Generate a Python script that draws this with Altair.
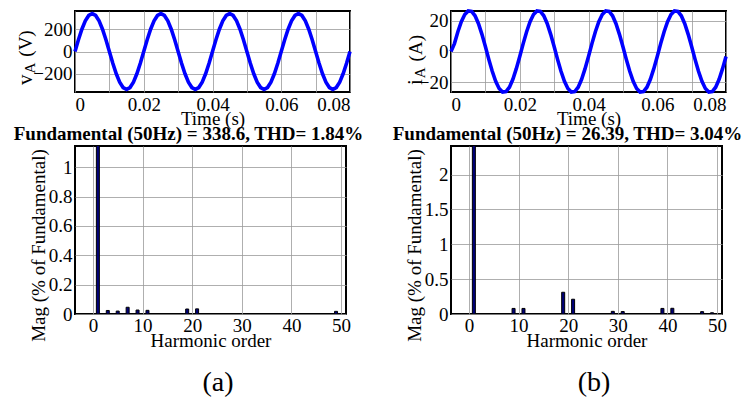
import altair as alt
import pandas as pd

SERIF = "Liberation Serif, Times New Roman, Tinos, DejaVu Serif, serif"

# 1 ms sample index over the 80 ms capture
sample_ms = list(range(81))

# phase-A voltage (V), one sample per ms
phase_voltage = [
    0, 105, 199, 274, 322, 339, 322, 274, 199, 105, 0, -105, -199, -274, -322, -339, -322, -274, -199, -105,
    0, 105, 199, 274, 322, 339, 322, 274, 199, 105, 0, -105, -199, -274, -322, -339, -322, -274, -199, -105,
    0, 105, 199, 274, 322, 339, 322, 274, 199, 105, 0, -105, -199, -274, -322, -339, -322, -274, -199, -105,
    0, 105, 199, 274, 322, 339, 322, 274, 199, 105, 0, -105, -199, -274, -322, -339, -322, -274, -199, -105,
    0,
]

# phase-A current (A), one sample per ms
phase_current = [
    0, 5.1, 12.8, 19.3, 23.9, 26.2, 25.9, 23.1, 18.0, 11.1, 3.2, -5.1, -12.8, -19.3, -23.9, -26.2, -25.9, -23.1, -18.0, -11.1,
    -3.2, 5.1, 12.8, 19.3, 23.9, 26.2, 25.9, 23.1, 18.0, 11.1, 3.2, -5.1, -12.8, -19.3, -23.9, -26.2, -25.9, -23.1, -18.0, -11.1,
    -3.2, 5.1, 12.8, 19.3, 23.9, 26.2, 25.9, 23.1, 18.0, 11.1, 3.2, -5.1, -12.8, -19.3, -23.9, -26.2, -25.9, -23.1, -18.0, -11.1,
    -3.2, 5.1, 12.8, 19.3, 23.9, 26.2, 25.9, 23.1, 18.0, 11.1, 3.2, -5.1, -12.8, -19.3, -23.9, -26.2, -25.9, -23.1, -18.0, -11.1,
    -3.2,
]

# FFT spectra (% of fundamental)
voltage_orders = [1, 3, 5, 7, 9, 11, 19, 21, 49]
voltage_mags = [100, 0.024, 0.020, 0.046, 0.027, 0.025, 0.034, 0.035, 0.018]
current_orders = [1, 9, 11, 19, 21, 29, 31, 39, 41, 47, 49]
current_mags = [100, 0.080, 0.080, 0.312, 0.212, 0.038, 0.035, 0.080, 0.082, 0.034, 0.018]

voltage_fft_title = "Fundamental (50Hz) = 338.6, THD= 1.84%"
current_fft_title = "Fundamental (50Hz) = 26.39, THD= 3.04%"

voltage_axis_text = ["v", "A", "(V)"]
current_axis_text = ["i", "A", "(A)"]
captions = ["(a)", "(b)"]

time_ticks = [0, 0.01, 0.02, 0.03, 0.04, 0.05, 0.06, 0.07, 0.08]
voltage_ticks = [-200, 0, 200]
current_ticks = [-20, 0, 20]
order_ticks = [0, 10, 20, 30, 40, 50]
voltage_mag_ticks = [0, 0.2, 0.4, 0.6, 0.8, 1]
current_mag_ticks = [0, 0.5, 1, 1.5, 2]


def label(text, size, x, y):
    return alt.Chart(pd.DataFrame({"s": [text]})).mark_text(
        font=SERIF, fontSize=size, angle=270, align="left", baseline="alphabetic", color="black"
    ).encode(text="s:N", x=alt.value(x), y=alt.value(y))


def waveform(values, ydomain, yticks, axis_text, base_x, widths):
    df = pd.DataFrame({"t": [k / 1000 for k in sample_ms], "val": values})
    line = alt.Chart(df).mark_line(color="#0000ff", strokeWidth=3.6).encode(
        x=alt.X(
            "t:Q",
            scale=alt.Scale(domain=[0, 0.08], nice=False, zero=False),
            axis=alt.Axis(
                values=time_ticks,
                labelExpr="round(datum.value * 100) % 2 === 0 ? format(datum.value, '~g') : ''",
                title="Time (s)",
                titlePadding=-5,
            ),
        ),
        y=alt.Y(
            "val:Q",
            scale=alt.Scale(domain=ydomain, nice=False, zero=False),
            axis=alt.Axis(values=yticks, title=None),
        ),
    )
    sym, sub, unit = axis_text
    w_sym, w_sub = widths
    y0 = 74
    parts = [
        label(sym, 21, base_x, y0),
        label(sub, 15, base_x + 3, y0 - w_sym - 1),
        label(unit, 19, base_x, y0 - w_sym - w_sub - 7),
    ]
    return alt.layer(line, *parts).properties(width=275, height=81)


def spectrum(orders, mags, ydomain, yticks, title_text, caption, title_dx):
    df = pd.DataFrame({"order": orders, "mag": mags})
    bars = alt.Chart(df).mark_bar(
        orient="vertical", size=3, fill="#00007a", stroke="#000000", strokeWidth=1, clip=True
    ).encode(
        x=alt.X(
            "order:Q",
            scale=alt.Scale(domain=[-2.6, 50], nice=False, zero=False),
            axis=alt.Axis(
                values=order_ticks, title="Harmonic order", labelFlush=False, labelPadding=2, titlePadding=-4
            ),
        ),
        y=alt.Y(
            "mag:Q",
            scale=alt.Scale(domain=ydomain, nice=False),
            axis=alt.Axis(values=yticks, format="~g", title="Mag (% of Fundamental)", titleY=99),
        ),
    )
    cap = alt.Chart(pd.DataFrame({"c": [caption]})).mark_text(
        font=SERIF, fontSize=28, align="center", baseline="middle", color="black"
    ).encode(text="c:N", x=alt.value(143), y=alt.value(237))
    return alt.layer(bars, cap).properties(
        width=271,
        height=168,
        title=alt.TitleParams(title_text, anchor="middle", dx=title_dx, offset=2),
    )


col_a = alt.vconcat(
    waveform(phase_voltage, [-362, 362], voltage_ticks, voltage_axis_text, -43, (10.5, 10.8)),
    spectrum(voltage_orders, voltage_mags, [0, 1.145], voltage_mag_ticks, voltage_fft_title, captions[0], -22),
    spacing=-5,
)
col_b = alt.vconcat(
    waveform(phase_current, [-26.2, 26.2], current_ticks, current_axis_text, -29, (5.8, 10.8)),
    spectrum(current_orders, current_mags, [0, 2.41], current_mag_ticks, current_fft_title, captions[1], -19),
    spacing=-5,
)

chart = (
    alt.hconcat(col_a, col_b, spacing=26)
    .properties(padding={"left": 12, "top": 2, "right": 2, "bottom": 0})
    .configure_view(stroke="black", strokeWidth=2)
    .configure_axis(
        labelFont=SERIF,
        labelFontSize=19,
        labelColor="black",
        titleFont=SERIF,
        titleFontSize=19,
        titleFontWeight="normal",
        titleColor="black",
        domain=False,
        ticks=False,
        gridColor="#9a9a9a",
        gridWidth=0.8,
        labelPadding=3,
        titlePadding=0,
        labelOverlap=False,
    )
    .configure_title(font=SERIF, fontSize=19, fontWeight="bold", color="black")
)

chart.save("out.html", embed_options={"renderer": "svg", "actions": False})
